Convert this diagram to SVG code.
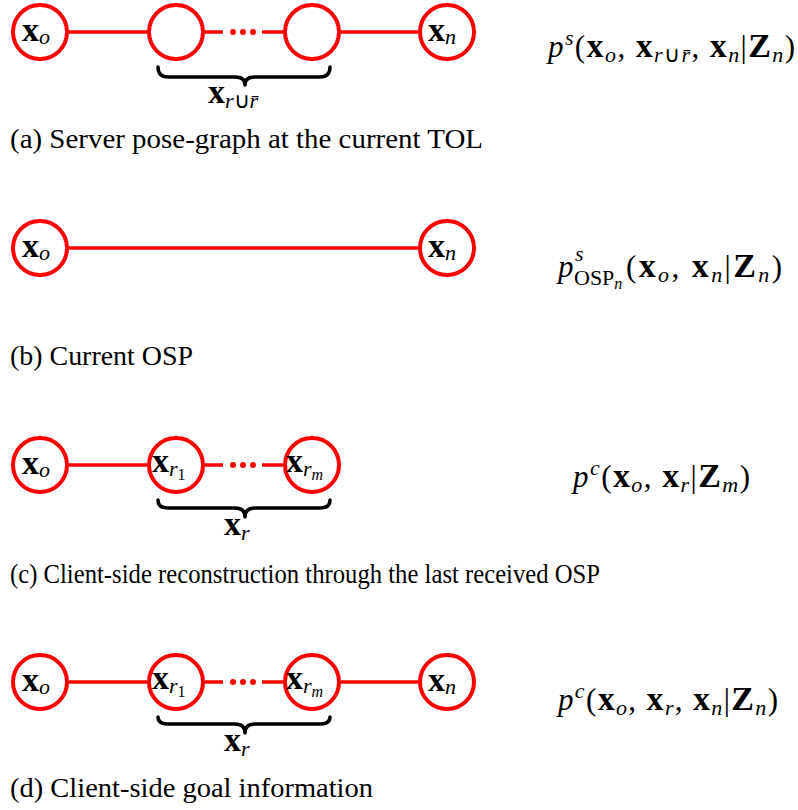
<svg xmlns="http://www.w3.org/2000/svg" width="798" height="810" viewBox="0 0 798 810">
<style>
.n{fill:#fff;stroke:#f00;stroke-width:4}
.e{stroke:#f00;stroke-width:3.5;fill:none}
.d{fill:#f00}
.br{fill:none;stroke:#000;stroke-width:3.5;stroke-linejoin:round;stroke-linecap:round}
text{font-family:"Liberation Serif","Times New Roman",serif;fill:#000}
.m{font-size:31px}
.b{font-weight:bold;font-size:34px}
.i{font-style:italic}
.s{font-size:22px}
.ss{font-size:16px}
.cap{font-size:28px}
</style>
<rect width="798" height="810" fill="#fff"/>
<g id="connectors">
<line class="e" x1="69" y1="32" x2="147" y2="32"/>
<line class="e" x1="205" y1="32" x2="223" y2="32"/>
<circle class="d" cx="233" cy="32" r="3"/><circle class="d" cx="243" cy="32" r="3"/><circle class="d" cx="253" cy="32" r="3"/>
<line class="e" x1="262" y1="32" x2="283" y2="32"/>
<line class="e" x1="341" y1="32" x2="418" y2="32"/>
<line class="e" x1="69" y1="248" x2="418" y2="248"/>
<line class="e" x1="69" y1="465" x2="147" y2="465"/>
<line class="e" x1="205" y1="465" x2="223" y2="465"/>
<circle class="d" cx="233" cy="465" r="3"/><circle class="d" cx="243" cy="465" r="3"/><circle class="d" cx="253" cy="465" r="3"/>
<line class="e" x1="262" y1="465" x2="283" y2="465"/>
<line class="e" x1="69" y1="682" x2="147" y2="682"/>
<line class="e" x1="205" y1="682" x2="223" y2="682"/>
<circle class="d" cx="233" cy="682" r="3"/><circle class="d" cx="243" cy="682" r="3"/><circle class="d" cx="253" cy="682" r="3"/>
<line class="e" x1="262" y1="682" x2="283" y2="682"/>
<line class="e" x1="341" y1="682" x2="418" y2="682"/>
</g>
<g id="a-xo"><circle class="n" cx="40" cy="32" r="27"/><text class="m" x="22" y="41"><tspan class="b">x</tspan><tspan class="i s" dy="3">o</tspan></text></g>
<g id="a-r1"><circle class="n" cx="176" cy="32" r="27"/></g>
<g id="a-r2"><circle class="n" cx="312" cy="32" r="27"/></g>
<g id="a-xn"><circle class="n" cx="447" cy="32" r="27"/><text class="m" x="428" y="41"><tspan class="b">x</tspan><tspan class="i s" dy="3">n</tspan></text></g>
<g id="a-brace"><path class="br" d="M158,67 Q158,77 168,77 L235,77 Q245,77 245,85 Q245,77 255,77 L320,77 Q330,77 330,67"/>
<text class="m" x="208" y="103"><tspan class="b">x</tspan><tspan class="i s" dy="5">r</tspan><tspan class="s">∪</tspan><tspan class="i s">r̄</tspan></text></g>
<g id="a-formula"><text class="m" x="548" y="57" textLength="247" lengthAdjust="spacing"><tspan class="i">p</tspan><tspan class="i s" dy="-12">s</tspan><tspan dy="12">(</tspan><tspan class="b">x</tspan><tspan class="i s" dy="5">o</tspan><tspan dy="-5">, </tspan><tspan class="b">x</tspan><tspan class="i s" dy="5">r</tspan><tspan class="s">∪</tspan><tspan class="i s">r̄</tspan><tspan dy="-5">, </tspan><tspan class="b">x</tspan><tspan class="i s" dy="5">n</tspan><tspan dy="-5">|</tspan><tspan class="b">Z</tspan><tspan class="i s" dy="5">n</tspan><tspan dy="-5">)</tspan></text></g>
<text class="cap" x="10" y="148" textLength="473" lengthAdjust="spacingAndGlyphs">(a) Server pose-graph at the current TOL</text>
<g id="b-xo"><circle class="n" cx="40" cy="248" r="27"/><text class="m" x="22" y="257"><tspan class="b">x</tspan><tspan class="i s" dy="3">o</tspan></text></g>
<g id="b-xn"><circle class="n" cx="447" cy="248" r="27"/><text class="m" x="428" y="257"><tspan class="b">x</tspan><tspan class="i s" dy="3">n</tspan></text></g>
<g id="b-formula"><text class="m i" x="558" y="277">p</text><text class="i s" x="575" y="261">s</text><text class="s" x="574" y="285">OSP<tspan class="i ss" dy="4">n</tspan></text><text class="m" x="626" y="277" textLength="156" lengthAdjust="spacing">(<tspan class="b">x</tspan><tspan class="i s" dy="5">o</tspan><tspan dy="-5">, </tspan><tspan class="b">x</tspan><tspan class="i s" dy="5">n</tspan><tspan dy="-5">|</tspan><tspan class="b">Z</tspan><tspan class="i s" dy="5">n</tspan><tspan dy="-5">)</tspan></text></g>
<text class="cap" x="10" y="365" textLength="183" lengthAdjust="spacingAndGlyphs">(b) Current OSP</text>
<g id="c-xo"><circle class="n" cx="40" cy="465" r="27"/><text class="m" x="22" y="474"><tspan class="b">x</tspan><tspan class="i s" dy="3">o</tspan></text></g>
<g id="c-xr1"><circle class="n" cx="176" cy="465" r="27"/><text class="m" x="152" y="472"><tspan class="b">x</tspan><tspan class="i s" dy="4">r</tspan><tspan class="ss" dy="4">1</tspan></text></g>
<g id="c-xrm"><circle class="n" cx="312" cy="465" r="27"/><text class="m" x="286" y="472"><tspan class="b">x</tspan><tspan class="i s" dy="4">r</tspan><tspan class="i ss" dy="4">m</tspan></text></g>
<g id="c-brace"><path class="br" d="M158,500 Q158,508 168,508 L235,508 Q245,508 245,517 Q245,508 255,508 L320,508 Q330,508 330,500"/>
<text class="m" x="224" y="535"><tspan class="b">x</tspan><tspan class="i s" dy="5">r</tspan></text></g>
<g id="c-formula"><text class="m" x="573" y="487" textLength="177" lengthAdjust="spacing"><tspan class="i">p</tspan><tspan class="i s" dy="-12">c</tspan><tspan dy="12">(</tspan><tspan class="b">x</tspan><tspan class="i s" dy="5">o</tspan><tspan dy="-5">, </tspan><tspan class="b">x</tspan><tspan class="i s" dy="5">r</tspan><tspan dy="-5">|</tspan><tspan class="b">Z</tspan><tspan class="i s" dy="5">m</tspan><tspan dy="-5">)</tspan></text></g>
<text class="cap" x="10" y="583" textLength="590" lengthAdjust="spacingAndGlyphs">(c) Client-side reconstruction through the last received OSP</text>
<g id="d-xo"><circle class="n" cx="40" cy="682" r="27"/><text class="m" x="22" y="691"><tspan class="b">x</tspan><tspan class="i s" dy="3">o</tspan></text></g>
<g id="d-xr1"><circle class="n" cx="176" cy="682" r="27"/><text class="m" x="152" y="689"><tspan class="b">x</tspan><tspan class="i s" dy="4">r</tspan><tspan class="ss" dy="4">1</tspan></text></g>
<g id="d-xrm"><circle class="n" cx="312" cy="682" r="27"/><text class="m" x="286" y="689"><tspan class="b">x</tspan><tspan class="i s" dy="4">r</tspan><tspan class="i ss" dy="4">m</tspan></text></g>
<g id="d-xn"><circle class="n" cx="447" cy="682" r="27"/><text class="m" x="428" y="691"><tspan class="b">x</tspan><tspan class="i s" dy="3">n</tspan></text></g>
<g id="d-brace"><path class="br" d="M158,717 Q158,724 168,724 L235,724 Q245,724 245,733 Q245,724 255,724 L320,724 Q330,724 330,717"/>
<text class="m" x="224" y="751"><tspan class="b">x</tspan><tspan class="i s" dy="5">r</tspan></text></g>
<g id="d-formula"><text class="m" x="558" y="710" textLength="220" lengthAdjust="spacing"><tspan class="i">p</tspan><tspan class="i s" dy="-12">c</tspan><tspan dy="12">(</tspan><tspan class="b">x</tspan><tspan class="i s" dy="5">o</tspan><tspan dy="-5">, </tspan><tspan class="b">x</tspan><tspan class="i s" dy="5">r</tspan><tspan dy="-5">, </tspan><tspan class="b">x</tspan><tspan class="i s" dy="5">n</tspan><tspan dy="-5">|</tspan><tspan class="b">Z</tspan><tspan class="i s" dy="5">n</tspan><tspan dy="-5">)</tspan></text></g>
<text class="cap" x="10" y="797" textLength="363" lengthAdjust="spacingAndGlyphs">(d) Client-side goal information</text>
</svg>
